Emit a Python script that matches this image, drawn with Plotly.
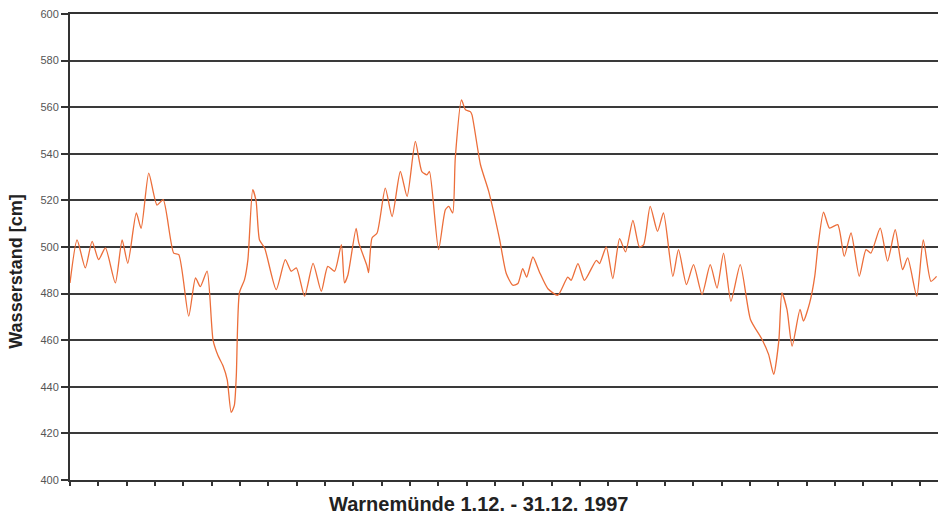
import plotly.graph_objects as go

# Time in days since 1.12.1997 00:00
days = [
    0.00, 0.25, 0.54, 0.78, 1.01, 1.25, 1.60, 1.84, 2.04, 2.34, 2.51, 2.78, 3.07, 3.29,
    3.66, 3.84, 4.19, 4.43, 4.60, 4.84, 5.05, 5.22, 5.40, 5.55, 5.69, 5.80, 5.87, 5.98,
    6.16, 6.28, 6.45, 6.57, 6.69, 6.87, 7.28, 7.60, 7.81, 7.99, 8.28, 8.58, 8.87, 9.10,
    9.34, 9.58, 9.69, 9.81, 10.10, 10.19, 10.48, 10.54, 10.66, 10.84, 11.13, 11.37,
    11.66, 11.90, 12.19, 12.42, 12.60, 12.69, 13.01, 13.25, 13.37, 13.51, 13.60, 13.82,
    13.96, 14.13, 14.19, 14.49, 14.78, 15.16, 15.40, 15.63, 15.81, 15.98, 16.12, 16.34,
    16.57, 16.87, 17.22, 17.57, 17.69, 17.93, 18.16, 18.58, 18.69, 18.93, 19.16, 19.40,
    19.61, 19.87, 20.10, 20.25, 20.48, 20.74, 20.95, 21.28, 21.48, 21.76, 22.01, 22.31,
    22.60, 22.84, 23.07, 23.33, 23.66, 24.02, 24.43, 24.66, 24.84, 25.02, 25.13, 25.31,
    25.49, 25.77, 25.89, 26.11, 26.29, 26.40, 26.60, 26.81, 27.10, 27.33, 27.57, 27.86,
    28.10, 28.27, 28.60, 28.86, 29.13, 29.39, 29.57, 29.89, 30.12, 30.39, 30.59,
]

# Water level in cm
wasserstand = [
    484.6, 503.0, 491.0, 502.4, 494.6, 499.6, 484.6, 503.0, 493.0, 514.6, 508.0, 531.7, 518.0, 520.3,
    497.4, 496.7, 470.3, 486.7, 483.0, 489.6, 460.0, 453.5, 449.0, 443.0, 429.0, 432.0, 444.6, 480.3,
    486.0, 494.6, 524.6, 519.6, 503.0, 499.6, 481.7, 494.6, 489.6, 491.0, 478.9, 493.0, 481.0, 491.7,
    489.6, 501.0, 484.6, 488.0, 508.0, 502.0, 492.0, 489.0, 503.9, 506.0, 525.3, 513.1,
    532.4, 521.7, 545.3, 532.4, 531.0, 532.4, 498.9, 516.0, 517.4, 514.6, 538.1, 563.1,
    558.9, 558.1, 556.7, 535.3, 523.9, 503.6, 488.6, 483.6, 484.3, 490.7, 487.1, 495.7,
    489.3, 482.1, 479.3, 487.1, 485.7, 492.9, 485.7, 494.3, 492.9, 500.0, 486.4, 503.6,
    497.9, 511.4, 500.0, 501.0, 517.4, 506.7, 514.6, 487.4, 498.9, 483.9, 492.4, 479.6,
    492.4, 482.4, 497.4, 476.7, 492.4, 468.9, 460.3, 453.9, 445.3, 459.6, 480.3, 473.1,
    457.5, 473.2, 468.2, 476.0, 487.5, 500.0, 515.0, 508.1, 509.6, 496.0, 506.0, 487.4,
    498.9, 497.4, 508.1, 493.9, 507.4, 490.3, 495.3, 478.9, 503.1, 485.3, 487.4,
]

y_ticks = [400, 420, 440, 460, 480, 500, 520, 540, 560, 580, 600]
x_title = "Warnemünde 1.12. - 31.12. 1997"
y_title = "Wasserstand [cm]"

FONT = "Arial, Liberation Sans, sans-serif"

fig = go.Figure()
fig.add_trace(go.Scatter(
    x=days, y=wasserstand, mode="lines",
    line=dict(color="#EC6E3A", width=1.3, shape="spline", smoothing=0.6),
    showlegend=False, hoverinfo="skip",
))

fig.update_layout(
    width=938, height=521, autosize=False,
    margin=dict(l=70, r=0, t=14, b=41),
    paper_bgcolor="white", plot_bgcolor="white",
    font=dict(family=FONT, color="#222"),
    xaxis=dict(
        range=[0, 30.64], showgrid=False, zeroline=False,
        showline=True, mirror=True, linecolor="#333", linewidth=2,
        ticks="outside", tickmode="linear", tick0=0, dtick=1,
        ticklen=4, tickwidth=1.5, tickcolor="#333",
        showticklabels=False,
    ),
    yaxis=dict(
        range=[400, 600], tickvals=y_ticks,
        showgrid=True, gridcolor="#3a3a3a", gridwidth=2,
        zeroline=False, showline=True, linecolor="#333", linewidth=2,
        ticks="outside", ticklen=7, tickwidth=1.5, tickcolor="#333",
        tickfont=dict(size=11, color="#555"),
    ),
    annotations=[
        dict(
            text="<b>" + x_title + "</b>", x=0.4706, y=-0.024, xref="paper", yref="paper",
            xanchor="center", yanchor="top", showarrow=False,
            font=dict(size=20, color="#222", family=FONT),
        ),
        dict(
            text="<b>" + y_title + "</b>", x=-0.0622, y=0.447, xref="paper", yref="paper",
            xanchor="center", yanchor="middle", textangle=-90, showarrow=False,
            font=dict(size=18, color="#222", family=FONT),
        ),
    ],
)

fig.write_html(
    "out.html",
    config={"displayModeBar": False},
    post_script="document.body.style.margin='0';",
)
